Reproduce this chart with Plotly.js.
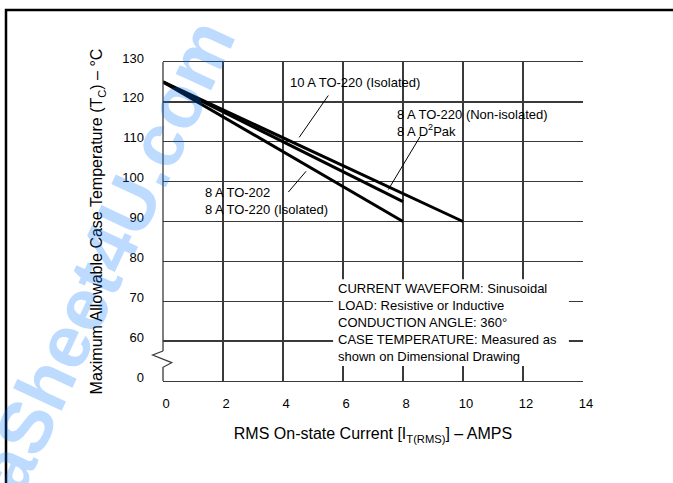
<!DOCTYPE html>
<html>
<head>
<meta charset="utf-8">
<script src="https://cdn.plot.ly/plotly-3.0.1.min.js"></script>
<style>html,body{margin:0;padding:0;background:#fff;}#chart{width:673px;height:483px;}</style>
</head>
<body>
<div id="chart"></div>
<script>
// ---- data ----
const xTickVals = [0, 2, 4, 6, 8, 10, 12, 14];
const xTickText = ["0", "2", "4", "6", "8", "10", "12", "14"];
// broken axis: "0" sits one grid step below 60
const yTickVals = [50, 60, 70, 80, 90, 100, 110, 120, 130];
const yTickText = ["0", "60", "70", "80", "90", "100", "110", "120", "130"];

const curve10A_x = [0, 10];
const curve10A_y = [125, 90];
const curve8ANonIso_x = [0, 8];
const curve8ANonIso_y = [125, 95];
const curve8AIso_x = [0, 8];
const curve8AIso_y = [125, 90];

const labels = {
  c10: "10 A TO-220 (Isolated)",
  c8n: "8 A TO-220 (Non-isolated)<br>8 A D<sup>2</sup>Pak",
  c8i: "8 A TO-202<br>8 A TO-220 (Isolated)",
  note: "CURRENT WAVEFORM: Sinusoidal<br>LOAD: Resistive or Inductive<br>CONDUCTION ANGLE: 360°<br>CASE TEMPERATURE: Measured as<br>shown on Dimensional Drawing"
};

// ---- layout helpers (pixel -> paper for decorations) ----
const L = 163, R = 90, T = 62, B = 102, W = 673, H = 483;
const pw = W - L - R, ph = H - T - B;
const px = v => (v - L) / pw;
const py = v => (H - B - v) / ph;

const FONT = "Liberation Sans, Arial, Helvetica, sans-serif";
const GRID = "#3a3a3a";

const lineStyle = {color: "#000", width: 3};
const traces = [
  {x: curve10A_x, y: curve10A_y, mode: "lines", line: lineStyle, name: "10 A TO-220 (Isolated)"},
  {x: curve8ANonIso_x, y: curve8ANonIso_y, mode: "lines", line: lineStyle, name: "8 A TO-220 (Non-isolated) / D2Pak"},
  {x: curve8AIso_x, y: curve8AIso_y, mode: "lines", line: lineStyle, name: "8 A TO-202 / TO-220 (Isolated)"}
];

const shapes = [
  // white box behind note
  {type: "rect", xref: "x", yref: "y", x0: 5.67, x1: 13.53, y0: 53.75, y1: 75.5,
   fillcolor: "#fff", line: {width: 0}, layer: "above"},
  // mask for axis break
  {type: "rect", xref: "paper", yref: "paper", x0: px(148), x1: px(176), y0: py(368.5), y1: py(350),
   fillcolor: "#fff", line: {width: 0}, layer: "above"},
  // left axis with break
  {type: "line", xref: "paper", yref: "paper", x0: px(163), x1: px(163), y0: py(62), y1: py(351),
   line: {color: GRID, width: 1.3}, layer: "above"},
  {type: "path", xref: "paper", yref: "paper",
   path: `M ${px(163)} ${py(351)} L ${px(152.7)} ${py(355)} L ${px(171.7)} ${py(362.7)} L ${px(163)} ${py(367.3)} L ${px(163)} ${py(381)}`,
   line: {color: GRID, width: 1.3}, layer: "above"},
  // leader lines
  {type: "line", xref: "x", yref: "y", x0: 5.51, y0: 121.6, x1: 4.54, y1: 111.1, line: {color: "#000", width: 1}},
  {type: "line", xref: "x", yref: "y", x0: 8.57, y0: 111.3, x1: 7.51, y1: 98.0, line: {color: "#000", width: 1}},
  {type: "line", xref: "x", yref: "y", x0: 4.77, y0: 102.6, x1: 4.18, y1: 97.4, line: {color: "#000", width: 1}},
  // outer page frame
  {type: "path", xref: "paper", yref: "paper",
   path: `M ${px(6)} ${py(490)} L ${px(6)} ${py(10)} L ${px(680)} ${py(10)}`,
   line: {color: "#000", width: 2.5}, layer: "above"}
];

const annFont = {family: FONT, size: 13, color: "#000"};
const annotations = [
  {xref: "x", yref: "y", x: 4.17, y: 124.9, xanchor: "left", yanchor: "middle", align: "left",
   text: labels.c10, showarrow: false, font: annFont},
  {xref: "x", yref: "y", x: 7.73, y: 114.6, xanchor: "left", yanchor: "middle", align: "left",
   text: labels.c8n, showarrow: false, font: annFont},
  {xref: "x", yref: "y", x: 1.33, y: 95.1, xanchor: "left", yanchor: "middle", align: "left",
   text: labels.c8i, showarrow: false, font: annFont},
  {xref: "x", yref: "y", x: 5.77, y: 64.75, xanchor: "left", yanchor: "middle", align: "left",
   text: labels.note, showarrow: false, font: annFont},
  // watermark
  {xref: "paper", yref: "paper", x: px(80), y: py(310), xanchor: "center", yanchor: "middle",
   text: "DataSheet4U.com", showarrow: false, textangle: -65,
   font: {family: FONT, size: 74, color: "rgba(0,115,255,0.26)", weight: "bold"}}
];

const layout = {
  width: W, height: H,
  margin: {l: L, r: R, t: T, b: B, pad: 0},
  paper_bgcolor: "#fff", plot_bgcolor: "#fff",
  showlegend: false,
  font: {family: FONT, size: 13, color: "#000"},
  xaxis: {
    range: [0, 14], tickvals: xTickVals, ticktext: xTickText,
    showgrid: true, gridcolor: GRID, gridwidth: 1.3, zeroline: false,
    showline: true, linecolor: GRID, linewidth: 1.3, mirror: true,
    ticks: "", ticklabelstandoff: 10, ticklabelshift: 3,
    tickfont: {family: FONT, size: 13, color: "#000"},
    fixedrange: true,
    title: {text: "RMS On-state Current [I<sub>T(RMS)</sub>] – AMPS", font: {family: FONT, size: 16, color: "#000"}, standoff: 18}
  },
  yaxis: {
    range: [50, 130], tickvals: yTickVals, ticktext: yTickText,
    showgrid: true, gridcolor: GRID, gridwidth: 1.3, zeroline: false,
    showline: false,
    ticks: "", ticklabelstandoff: 18, ticklabelshift: -4,
    tickfont: {family: FONT, size: 13, color: "#000"},
    fixedrange: true,
    title: {text: "Maximum Allowable Case Temperature (T<sub>C</sub>) – °C", font: {family: FONT, size: 16, color: "#000"}, standoff: 15}
  },
  shapes: shapes,
  annotations: annotations
};

Plotly.newPlot("chart", traces, layout, {displayModeBar: false, staticPlot: true});
</script>
</body>
</html>
